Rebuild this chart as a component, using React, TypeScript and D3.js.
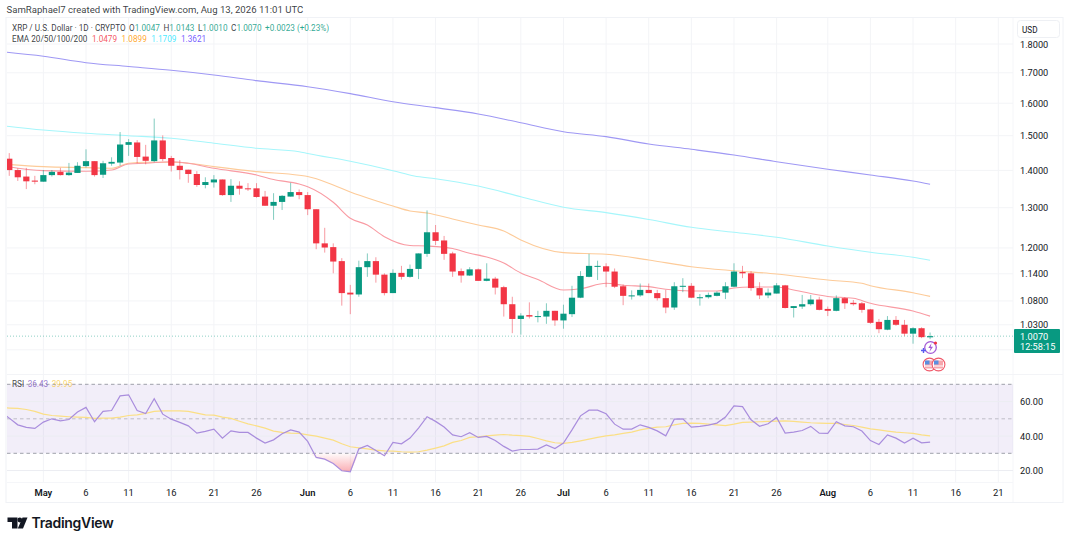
import React from "react";
import * as d3 from "d3";

const opens = [1.433,1.401,1.383,1.372,1.369,1.387,1.396,1.387,1.393,1.412,1.426,1.388,1.419,1.422,1.473,1.48,1.439,1.426,1.486,1.435,1.413,1.402,1.39,1.36,1.367,1.375,1.333,1.358,1.351,1.351,1.329,1.305,1.315,1.329,1.341,1.333,1.296,1.211,1.202,1.169,1.098,1.094,1.155,1.169,1.138,1.097,1.142,1.133,1.151,1.186,1.238,1.218,1.187,1.146,1.136,1.15,1.124,1.129,1.11,1.073,1.042,1.05,1.047,1.047,1.059,1.039,1.052,1.087,1.133,1.157,1.157,1.145,1.112,1.091,1.092,1.104,1.097,1.086,1.066,1.111,1.113,1.087,1.088,1.091,1.098,1.111,1.144,1.141,1.108,1.092,1.096,1.114,1.065,1.068,1.073,1.083,1.063,1.059,1.086,1.076,1.075,1.062,1.036,1.02,1.04,1.03,1.012,1.023,1.0047];
const highs = [1.449,1.406,1.407,1.385,1.401,1.401,1.407,1.421,1.423,1.46,1.426,1.427,1.437,1.511,1.49,1.487,1.473,1.552,1.501,1.441,1.429,1.402,1.398,1.381,1.387,1.375,1.376,1.37,1.365,1.365,1.344,1.338,1.333,1.366,1.348,1.341,1.296,1.249,1.211,1.176,1.115,1.17,1.187,1.178,1.141,1.15,1.158,1.161,1.187,1.293,1.256,1.229,1.191,1.152,1.155,1.152,1.164,1.133,1.113,1.089,1.054,1.077,1.059,1.075,1.059,1.072,1.113,1.146,1.186,1.17,1.164,1.152,1.116,1.103,1.118,1.118,1.104,1.104,1.121,1.13,1.119,1.095,1.098,1.101,1.121,1.164,1.158,1.146,1.121,1.107,1.119,1.115,1.069,1.093,1.093,1.089,1.068,1.092,1.088,1.082,1.078,1.063,1.042,1.048,1.048,1.04,1.025,1.025,1.0143];
const lows = [1.385,1.371,1.349,1.362,1.369,1.383,1.386,1.385,1.393,1.408,1.383,1.379,1.413,1.413,1.441,1.42,1.417,1.423,1.426,1.397,1.375,1.366,1.355,1.351,1.353,1.331,1.315,1.334,1.344,1.326,1.305,1.269,1.294,1.329,1.322,1.281,1.197,1.189,1.141,1.07,1.052,1.089,1.133,1.12,1.092,1.097,1.127,1.131,1.128,1.179,1.207,1.172,1.133,1.12,1.135,1.124,1.123,1.094,1.047,1.013,1.01,1.043,1.035,1.032,1.028,1.022,1.046,1.086,1.132,1.126,1.11,1.108,1.071,1.083,1.089,1.097,1.081,1.054,1.061,1.099,1.086,1.07,1.085,1.09,1.084,1.11,1.13,1.102,1.084,1.086,1.096,1.064,1.045,1.063,1.07,1.06,1.048,1.058,1.063,1.07,1.055,1.032,1.013,1.019,1.028,1.007,0.992,1.003,1.001];
const closes = [1.401,1.381,1.37,1.369,1.387,1.396,1.387,1.394,1.413,1.426,1.387,1.42,1.424,1.474,1.481,1.438,1.427,1.486,1.432,1.413,1.401,1.39,1.36,1.368,1.375,1.333,1.358,1.35,1.349,1.328,1.305,1.315,1.331,1.341,1.333,1.296,1.211,1.201,1.168,1.097,1.094,1.155,1.169,1.138,1.097,1.142,1.133,1.151,1.187,1.238,1.217,1.186,1.145,1.136,1.15,1.124,1.129,1.109,1.073,1.042,1.049,1.047,1.048,1.059,1.039,1.053,1.087,1.135,1.158,1.158,1.145,1.111,1.091,1.092,1.104,1.097,1.086,1.066,1.112,1.113,1.087,1.088,1.093,1.098,1.112,1.145,1.141,1.108,1.092,1.098,1.114,1.065,1.069,1.073,1.083,1.061,1.059,1.086,1.075,1.073,1.061,1.034,1.021,1.04,1.03,1.012,1.023,1.005,1.007];

const ema200Days = [-1,4,9,14,19,24,29,35,40,45,50,55,60,65,70,75,80,85,90,96,101,106,108];
const ema200 = [1.7727,1.7566,1.7343,1.7213,1.7083,1.6925,1.6735,1.6536,1.6308,1.605,1.586,1.5663,1.5392,1.512,1.4972,1.4755,1.46,1.4436,1.4245,1.4032,1.3874,1.3709,1.3621];
const ema100Days = [-1,4,9,14,19,24,29,34,35,40,45,47.5,50,55,60,65,70,75,80,85,90,96,101,106,108];
const ema100 = [1.5308,1.5171,1.5073,1.5001,1.4924,1.4778,1.463,1.4531,1.4479,1.4256,1.3993,1.3846,1.3772,1.3573,1.3287,1.3011,1.2872,1.2699,1.2503,1.238,1.2257,1.2047,1.1897,1.1779,1.1709];
const ema50Days = [-1,4,9,12,14,16,19,21,24,29,34,35,38,40,43,45,47,49,52,55,58,60,65,70,75,80,85,90,96,100,101,106,108];
const ema50 = [1.4181,1.4105,1.4077,1.406,1.42,1.4228,1.4228,1.42,1.4105,1.3965,1.3866,1.3833,1.36,1.3412,1.3182,1.3045,1.2915,1.2864,1.2711,1.2561,1.2412,1.2191,1.1888,1.185,1.1716,1.1561,1.1469,1.1395,1.1259,1.1186,1.1133,1.0979,1.0899];
const ema20Days = [-1,4,9,12,14,16,19,21,24,29,31,34,35,38,40,42,44,47,49,52,54,56,58,60,62,65,67,70,72,75,77,80,83,85,87,90,92,96,99,101,106,108];
const ema20 = [1.4138,1.3993,1.3976,1.4012,1.4181,1.42,1.4245,1.42,1.406,1.3874,1.375,1.3628,1.3554,1.314,1.2729,1.2561,1.2272,1.2059,1.2047,1.1987,1.1873,1.1786,1.1646,1.1417,1.127,1.1038,1.1066,1.1186,1.1142,1.1111,1.1053,1.1016,1.1016,1.1082,1.1104,1.1104,1.1038,1.0897,1.0858,1.075,1.0586,1.0479];

// first value belongs to the day before the first candle (clipped by the pane edge)
const rsi = [54,50.4,46.5,45,44.4,48.1,50,48.8,49.6,53.9,56.6,48.3,54.3,54.8,63.3,63.9,54.8,53.1,61.6,52.7,49.8,47.9,45.9,41.7,42.7,44,38.8,43,42.1,42.1,38.8,35.9,37.8,41.3,43.6,42.3,36.9,27.6,26.6,24.1,19.9,19.3,32.6,34.5,31.6,28.6,36.3,35.5,38.8,44.6,51.2,48.5,45.2,40.7,39.6,41.9,39.2,39.8,37.4,34,31.3,32.2,32.2,32.4,34.9,32.8,35.9,43.6,51.7,55,55,52.9,46.9,44,44,46.5,45,43,40.1,49.8,50,45.2,45.6,46.3,47.5,51,57.5,57.1,49.4,45.7,47.1,50.8,41.7,42.3,43.2,45.6,41.7,41.5,48.3,45.9,45.4,42.9,37.4,35.1,40.7,38.8,35.9,38.8,36.1,36.5];
const rsiMa = [56.5,56.2,56,55.4,54.3,52.7,51.9,51.5,51.2,51,50.8,50.2,50.4,50.4,51,51.9,52.3,53.1,54.3,54.6,54.6,54.6,54.3,53.3,52.3,52.1,51,50.2,48.6,47.1,45.9,44.6,42.9,42.1,41.7,41.5,40.7,40,38.8,37.6,35.5,33.8,33.2,32.6,31.8,31.4,31.3,30.9,30.7,30.9,31.8,33,34.3,36.3,37.4,39.2,39.6,40.1,40.5,40.9,40.5,40.3,39.8,38.6,37.2,36.1,35.7,36.3,37.2,38.2,39.2,40.1,40.7,41.5,42.3,43.6,44.4,45.2,45.4,46.5,47.3,47.5,47.3,46.9,46.5,46.1,46.9,47.9,48.1,48.3,48.5,48.6,48.8,48.5,48.1,47.7,47.5,47.4,47.3,46.7,46.1,45.2,44.2,43.6,42.9,42.3,41.9,41.5,40.7,40.1];

const priceTicks = [1.8,1.7,1.6,1.5,1.4,1.3,1.2,1.14,1.08,1.03];
const hiddenPriceTicks = [0.98];
const rsiTicks = [60,40,20];
const rsiLevels = [70,50,30];
const timeTickDays = [4,9,14,19,24,29,35,40,45,50,55,60,65,70,75,80,85,90,96,101,106,111,116];
const timeTickLabels = ["May","6","11","16","21","26","Jun","6","11","16","21","26","Jul","6","11","16","21","26","Aug","6","11","16","21"];
const monthLabels = ["May","Jun","Jul","Aug"];

const GREEN = "#089981";
const RED = "#F23645";
const GRID = "#f3f4f7";
const FONT = "Roboto, 'Liberation Sans', sans-serif";
const TXT = "#131722";

const x = d3.scaleLinear().domain([9, 116]).range([86, 998.3]);
const y = d3.scaleLog().domain([1.8, 1.0]).range([44, 339.66]);
const ry = d3.scaleLinear().domain([70, 30]).range([384.3, 453.3]);

const L = 7, R = 1013;

const emaPath = (days: number[], vals: number[]) =>
  d3.line<number>().x((_, i) => x(days[i])).y((v) => y(v)).curve(d3.curveMonotoneX)(vals) as string;

const rsiLine = d3.line<number>().x((_, i) => x(i - 1)).y((v) => ry(v));
const osArea = d3.area<number>().x((_, i) => x(i - 1)).y0(ry(30)).y1((v) => ry(Math.min(v, 30)));

const emaSeries = [
  { days: ema200Days, vals: ema200, color: "#9f98f4" },
  { days: ema100Days, vals: ema100, color: "#a6f6fb" },
  { days: ema50Days, vals: ema50, color: "#fdcb99" },
  { days: ema20Days, vals: ema20, color: "#f99ba3" },
];

export default function App() {
  const last = closes[closes.length - 1];
  const lastY = y(last);
  return (
    <svg width={1068} height={543} viewBox="0 0 1068 543" style={{ position: "absolute", left: 0, top: 0, background: "#fff", fontFamily: FONT }}>
      <defs>
        <clipPath id="pane"><rect x={L} y={18} width={R - L} height={356} /></clipPath>
        <clipPath id="rsipane"><rect x={L} y={375} width={R - L} height={108} /></clipPath>
        <linearGradient id="osGrad" gradientUnits="userSpaceOnUse" x1="0" y1={ry(30)} x2="0" y2={ry(20)}>
          <stop offset="0" stopColor={RED} stopOpacity={0.02} />
          <stop offset="1" stopColor={RED} stopOpacity={0.38} />
        </linearGradient>
      </defs>

      {/* header */}
      <text x={6.5} y={13} fontSize={9.6} fill={TXT} fillOpacity={0.85}>SamRaphael7 created with TradingView.com, Aug 13, 2026 11:01 UTC</text>

      {/* frame */}
      <rect x={6} y={17.5} width={1057} height={485} fill="none" stroke="#f0f2f6" />
      <line x1={R} x2={R} y1={18} y2={502} stroke="#f5f6f9" />
      <line x1={L} x2={1063} y1={374.5} y2={374.5} stroke="#f3f4f7" />
      <line x1={L} x2={R} y1={482.5} y2={482.5} stroke="#f5f6f9" />

      {/* grid */}
      {timeTickDays.map((d) => (
        <g key={d}>
          <line x1={x(d)} x2={x(d)} y1={18} y2={374} stroke={GRID} />
          <line x1={x(d)} x2={x(d)} y1={375} y2={482} stroke={GRID} />
        </g>
      ))}
      {[...priceTicks, ...hiddenPriceTicks].map((t) => (
        <line key={t} x1={L} x2={R} y1={y(t)} y2={y(t)} stroke={GRID} />
      ))}

      {/* last price dotted */}
      <line x1={L} x2={R} y1={lastY} y2={lastY} stroke={GREEN} strokeOpacity={0.45} strokeDasharray="1 2" />

      <g clipPath="url(#pane)">
        {emaSeries.map((s, i) => (
          <path key={i} d={emaPath(s.days, s.vals)} fill="none" stroke={s.color} strokeWidth={1.1} />
        ))}
        {closes.map((c, i) => {
          const o = opens[i];
          const up = c >= o;
          const col = up ? GREEN : RED;
          const top = y(Math.max(o, c));
          const bot = y(Math.min(o, c));
          const cx = x(i);
          return (
            <g key={i}>
              <line x1={cx} x2={cx} y1={y(highs[i])} y2={y(lows[i])} stroke={col} strokeOpacity={0.5} strokeWidth={1} />
              <rect x={cx - 3.1} y={top} width={6.2} height={Math.max(bot - top, 1)} fill={col} />
            </g>
          );
        })}
      </g>

      {/* event markers */}
      <g>
        <circle cx={930.5} cy={347.5} r={5.8} fill="#fff" stroke="#a45bd6" strokeWidth={1.3} />
        <path d="M931.6 343 L928.3 348 L930.6 348 L929.4 352 L933 346.8 L930.7 346.8 Z" fill="#a45bd6" />
        <circle cx={935.5} cy={343} r={1.6} fill={RED} />
        <path d="M921 350.5 h5 M923.5 348 v5" stroke="#5a5af0" strokeWidth={1.4} />
        {[929.5, 938.5].map((cx) => (
          <g key={cx}>
            <circle cx={cx} cy={364.5} r={6.4} fill="#fff" stroke="#f0596a" strokeWidth={1.1} />
            <rect x={cx - 4.5} y={360.5} width={9} height={8} fill="#f7a6ad" />
            <rect x={cx - 4.5} y={360.5} width={4.5} height={4} fill="#5b8fe0" />
            <line x1={cx - 4.5} x2={cx + 4.5} y1={366} y2={366} stroke="#fff" />
          </g>
        ))}
      </g>

      {/* RSI */}
      <rect x={L} y={ry(70)} width={R - L} height={ry(30) - ry(70)} fill="#7E57C2" fillOpacity={0.1} />
      {rsiTicks.map((t) => (
        <line key={t} x1={L} x2={R} y1={ry(t)} y2={ry(t)} stroke="#ecedf2" />
      ))}
      {rsiLevels.map((t) => (
        <line key={t} x1={L} x2={R} y1={ry(t)} y2={ry(t)} stroke="#9598a1" strokeOpacity={t === 50 ? 0.55 : 0.9} strokeDasharray="3.5 3" />
      ))}
      <g clipPath="url(#rsipane)">
        <path d={osArea(rsi) as string} fill="url(#osGrad)" />
        <path d={rsiLine(rsiMa) as string} fill="none" stroke="#fbdf85" strokeWidth={1.2} />
        <path d={rsiLine(rsi) as string} fill="none" stroke="#a98ddd" strokeWidth={1.2} />
      </g>

      {/* pane labels */}
      <text x={12} y={31} fontSize={8.2} fill={TXT} fillOpacity={0.85}>
        <tspan>XRP / U.S. Dollar · 1D · CRYPTO</tspan>
        <tspan dx={3.5}>O</tspan><tspan fill={GREEN}>1.0047</tspan>
        <tspan dx={3.5}>H</tspan><tspan fill={GREEN}>1.0143</tspan>
        <tspan dx={3.5}>L</tspan><tspan fill={GREEN}>1.0010</tspan>
        <tspan dx={3.5}>C</tspan><tspan fill={GREEN}>1.0070</tspan>
        <tspan dx={3.5} fill={GREEN}>+0.0023 (+0.23%)</tspan>
      </text>
      <text x={12} y={42} fontSize={8.2} fill={TXT} fillOpacity={0.85}>
        <tspan>EMA 20/50/100/200</tspan>
        <tspan dx={4.5} fill={RED}>1.0479</tspan>
        <tspan dx={4.5} fill="#FF9800">1.0899</tspan>
        <tspan dx={4.5} fill="#26E6FF">1.1709</tspan>
        <tspan dx={4.5} fill="#5B3CFF">1.3621</tspan>
      </text>
      <text x={12} y={386.5} fontSize={8.2} fill={TXT} fillOpacity={0.8}>
        <tspan>RSI</tspan>
        <tspan dx={3.5} fill="#7E57C2">36.43</tspan>
        <tspan dx={3.5} fill="#F7C948">39.95</tspan>
      </text>

      {/* price axis */}
      <rect x={1017.5} y={20.5} width={42} height={17} rx={3} fill="#fff" stroke="#eef0f4" />
      <text x={1022} y={32.5} fontSize={8.2} fill={TXT}>USD</text>
      {priceTicks.map((t) => (
        <text key={t} x={1020} y={y(t) + 3.5} fontSize={9.2} fill={TXT}>{t.toFixed(4)}</text>
      ))}
      {rsiTicks.map((t) => (
        <text key={t} x={1020} y={ry(t) + 3.5} fontSize={9.2} fill={TXT}>{t.toFixed(2)}</text>
      ))}
      <rect x={1014} y={329} width={46} height={24} rx={1} fill={GREEN} />
      <text x={1020} y={339.5} fontSize={9.2} fill="#fff">{last.toFixed(4)}</text>
      <text x={1020} y={350} fontSize={9.2} fill="#fff">12:58:15</text>

      {/* time axis */}
      {timeTickDays.map((d, i) => {
        const label = timeTickLabels[i];
        return (
          <text key={d} x={x(d)} y={495.5} textAnchor="middle" fontSize={9.4} fill={TXT}
            fontWeight={monthLabels.includes(label) ? 600 : 400}>{label}</text>
        );
      })}

      {/* brand */}
      <g fill="#131722">
        <path d="M7.5 517.5 H17.5 V528.5 H12 V522 H7.5 Z" />
        <circle cx={19.8} cy={520} r={2.4} />
        <path d="M22.5 517.5 H27.5 L23 528.5 H17.8 Z" />
      </g>
      <text x={31.5} y={527.7} fontSize={14} fontWeight={600} fill="#131722" fontFamily="Inter, Roboto, sans-serif" letterSpacing={-0.3}>TradingView</text>
    </svg>
  );
}
